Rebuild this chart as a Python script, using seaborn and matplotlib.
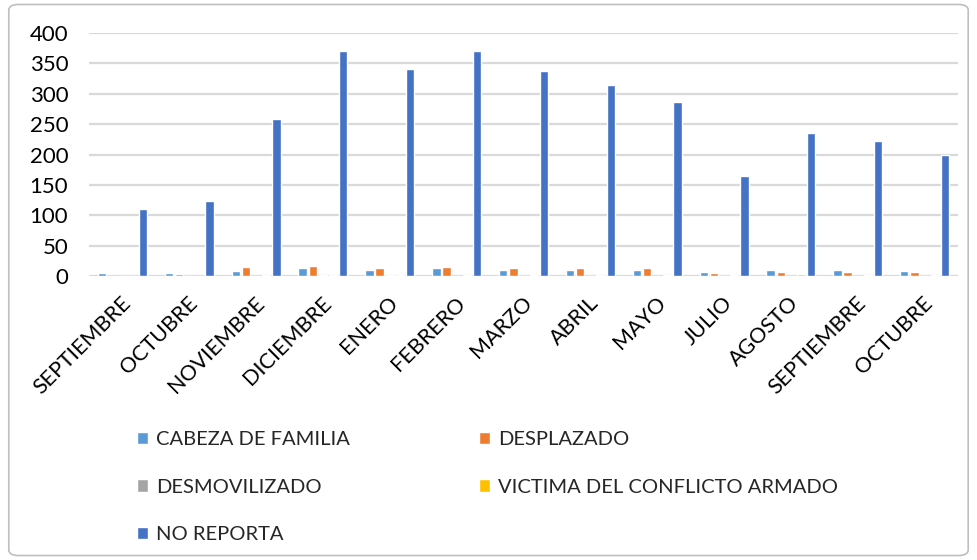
import pandas as pd
import matplotlib
matplotlib.use("Agg")
import matplotlib.pyplot as plt
from matplotlib.patches import FancyBboxPatch
from matplotlib.transforms import ScaledTranslation
import seaborn as sns

# datos
meses = ["SEPTIEMBRE", "OCTUBRE", "NOVIEMBRE", "DICIEMBRE", "ENERO", "FEBRERO",
         "MARZO", "ABRIL", "MAYO", "JULIO", "AGOSTO", "SEPTIEMBRE", "OCTUBRE"]
cabeza = [5, 5, 8, 13, 10, 13, 10, 10, 10, 7, 10, 10, 8]
desplazado = [0, 3, 15, 16, 13, 15, 13, 13, 13, 5, 7, 7, 7]
desmovilizado = [0, 0, 0, 1, 1, 0, 0, 0, 0, 0, 0, 0, 0]
victima = [0, 0, 1, 1, 1, 1, 1, 1, 1, 1, 3, 1, 1]
no_reporta = [110, 123, 259, 370, 340, 370, 338, 314, 286, 165, 235, 222, 200]

series = ["CABEZA DE FAMILIA", "DESPLAZADO", "DESMOVILIZADO",
          "VICTIMA DEL CONFLICTO ARMADO", "NO REPORTA"]
colores = ["#5B9BD5", "#ED7D31", "#A5A5A5", "#FFC000", "#4472C4"]
yticks = [0, 50, 100, 150, 200, 250, 300, 350, 400]

df = pd.DataFrame({"idx": range(len(meses)),
                   series[0]: cabeza, series[1]: desplazado,
                   series[2]: desmovilizado, series[3]: victima,
                   series[4]: no_reporta})
largo = df.melt(id_vars="idx", var_name="serie", value_name="valor")

sns.set_style("white")
plt.rcParams["font.family"] = ["Lato", "DejaVu Sans"]

fig = plt.figure(figsize=(9.77, 5.6), dpi=100)
ax = fig.add_axes([0.0911, 0.507, 0.8895, 0.434])

sns.barplot(data=largo, x="idx", y="valor", hue="serie", hue_order=series,
            palette=colores, saturation=1, width=0.76, gap=0.18, ax=ax,
            errorbar=None, zorder=3)

ax.set_ylim(0, 400)
ax.set_yticks(yticks)
ax.set_xlim(-0.5, len(meses) - 0.5)
ax.grid(axis="y", color="#D9D9D9", linewidth=1.6, zorder=0)
ax.set_axisbelow(True)
for s in ax.spines.values():
    s.set_visible(False)
ax.tick_params(axis="both", length=0, colors="black")
ax.tick_params(axis="y", pad=15, labelsize=16)
ax.tick_params(axis="x", pad=12)
ax.set_xticks(range(len(meses)))
ax.set_xticklabels(meses, rotation=45, ha="right", rotation_mode="anchor", fontsize=15.5)
desplaz = ScaledTranslation(-2 / 100, 0, fig.dpi_scale_trans)
for lbl in ax.get_xticklabels():
    lbl.set_transform(lbl.get_transform() + desplaz)
ax.set_xlabel("")
ax.set_ylabel("")

# leyenda abajo, dos columnas llenadas por filas
handles, labels = ax.get_legend_handles_labels()
ax.get_legend().remove()
orden = [0, 2, 4, 1, 3]
fig.legend([handles[i] for i in orden], [labels[i] for i in orden],
           loc="upper left", bbox_to_anchor=(0.122, 0.262), ncol=2, frameon=False,
           fontsize=14.5, handlelength=0.55, handleheight=0.55, handletextpad=0.4,
           labelspacing=1.5, columnspacing=6.4)

# marco del grafico
marco = FancyBboxPatch((0.009, 0.008), 0.982, 0.984, boxstyle="round,pad=0,rounding_size=0.01",
                       transform=fig.transFigure, facecolor="none", edgecolor="#BFBFBF",
                       linewidth=1.2)
fig.patches.append(marco)

fig.savefig("out.png", dpi=100)
